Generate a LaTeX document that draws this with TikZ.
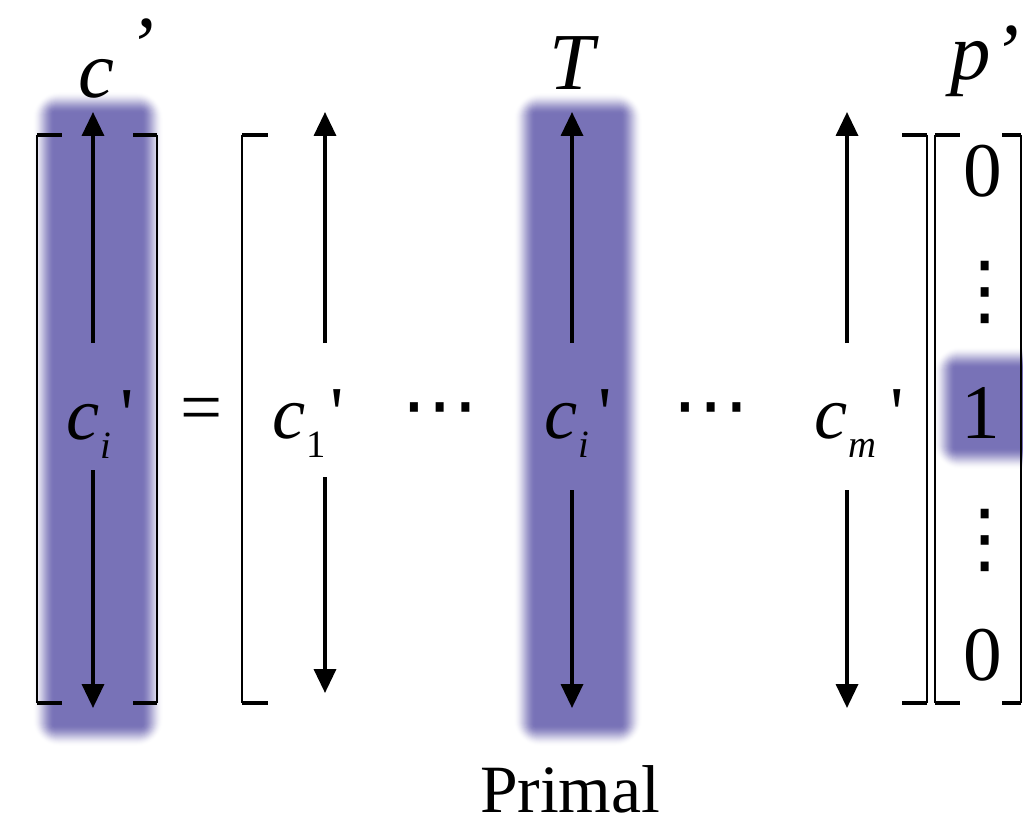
\documentclass[tikz,border=0pt]{standalone}
\usepackage{fontspec}
\setmainfont{Liberation Serif}
\newfontfamily\quotefont[Ligatures=TeXOff]{Liberation Serif}
\newfontfamily\dotfont{DejaVu Sans}
\usetikzlibrary{positioning, arrows.meta}
\definecolor{hlpurple}{RGB}{120,114,183}
% column name: c, subscript, gap, straight prime
\newcommand{\csub}[2]{\textit{c}\kern1pt\raisebox{-11pt}{\fontsize{22}{24}\selectfont#1}\kern#2{\quotefont'}}

\begin{document}
\begin{tikzpicture}[
    x=0.02cm, y=-0.02cm,
    every node/.style={inner sep=0pt, outer sep=0pt},
    glow/.style={fill=hlpurple},
    brackline/.style={line width=1.1pt, black},
    brackserif/.style={line width=2.3pt, black},
    colarrow/.style={-{Triangle[length=0.48cm, width=0.44cm]}, line width=2pt, black},
    bigtext/.style={font=\fontsize{42.5}{50}\selectfont, anchor=base west},
    lbl/.style={font=\fontsize{46}{52}\selectfont\itshape, anchor=base west},
    digit/.style={font=\fontsize{44}{50}\selectfont, anchor=base},
    dotsym/.style={font=\fontsize{44}{48}\selectfont\dotfont}
]
\useasboundingbox (0,0) rectangle (1023,827);

% highlighted columns and entry (soft edges, smoothstep ramp of 22 layers)
\foreach \xa/\ya/\xb/\yb in {54/113/142/725, 535/114/621/725, 955/368/1050/448}
  \foreach \k in {21,...,0} {
    \pgfmathsetmacro\ta{(22-\k)/22}
    \pgfmathsetmacro\tb{(21-\k)/22}
    \pgfmathsetmacro\aa{3*\ta*\ta-2*\ta*\ta*\ta}
    \pgfmathsetmacro\ab{3*\tb*\tb-2*\tb*\tb*\tb}
    \pgfmathsetmacro\op{\k==0 ? 1 : 1-(1-\aa)/(1-\ab)}
    \fill[glow, fill opacity=\op, rounded corners=\k*0.025cm] (\xa-\k,\ya-\k) rectangle (\xb+\k,\yb+\k);
  }

% brackets
\foreach \bx/\bd in {37/25, 157/-24, 242/26, 927/-25, 935/25, 1021/-19} {
  \draw[brackline] (\bx,135) -- (\bx,703);
  \draw[brackserif] (\bx,135) -- ++(\bd,0);
  \draw[brackserif] (\bx,703) -- ++(\bd,0);
}

% column arrows
\foreach \n/\ax/\lo/\bt in {p/93/470/708, a/325/477/693, b/572/490/708, c/847/490/708} {
  \coordinate (\n top) at (\ax,112);
  \coordinate (\n up) at (\ax,343);
  \coordinate (\n lo) at (\ax,\lo);
  \coordinate (\n bot) at (\ax,\bt);
  \draw[colarrow] (\n up) -- (\n top);
  \draw[colarrow] (\n lo) -- (\n bot);
}

% column names
\node[bigtext] (cleft) at (66,439) {\csub{\textit{i}}{5pt}};
\node[bigtext, anchor=center] (eq) at (202,415) {=};
\node[bigtext] (c1) at (272,438) {\csub{1}{2.5pt}};
\node[dotsym] (hd1) at (440,417) {⋯};
\node[bigtext] (ci) at (544,438) {\csub{\textit{i}}{5pt}};
\node[dotsym] (hd2) at (711,417) {⋯};
\node[bigtext] (cm) at (814,438) {\csub{\textit{m}}{8pt}};

% labels
\node[lbl] (clbl) at (78,98) {c\kern8pt\raisebox{0.32em}{'}};
\node[lbl] (Tlbl) at (549,90) {T};
\node[lbl] (plbl) at (950,80) {p\kern1pt'};

% unit vector
\node[digit] (v0) at (983,197) {0};
\node[dotsym] (vd1) at (985,292) {⋮};
\node[digit] (v1) at (981,438) {1};
\node[dotsym] (vd2) at (985,540) {⋮};
\node[digit] (vn) at (983,680) {0};

\node[font=\fontsize{38.5}{44}\selectfont, anchor=base west] (primal) at (480,812) {Primal};
\end{tikzpicture}
\end{document}
